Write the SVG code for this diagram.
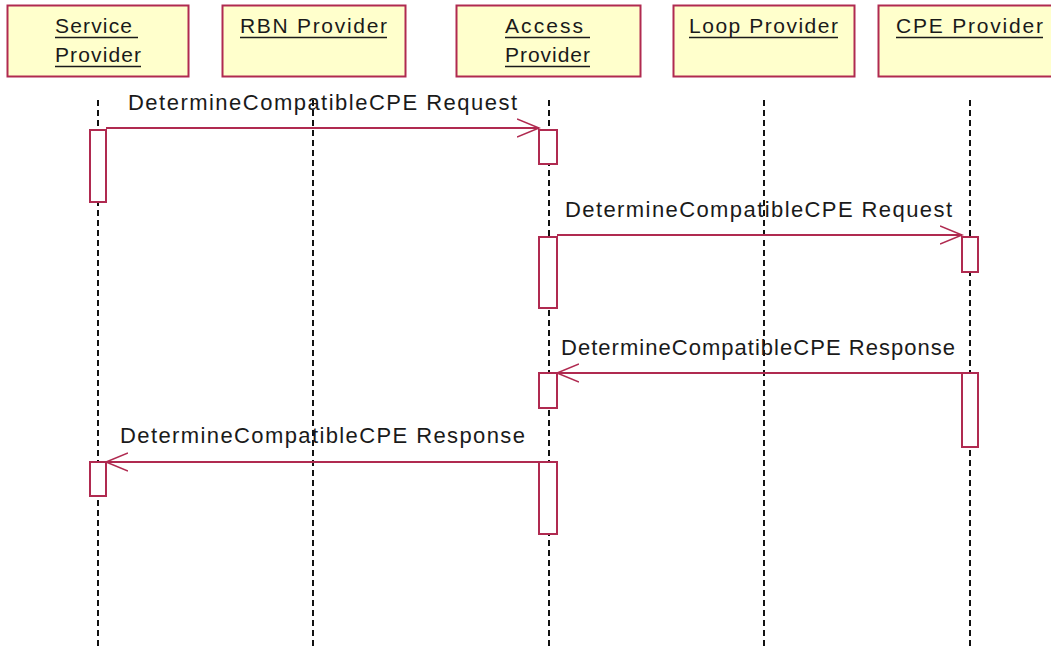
<svg xmlns="http://www.w3.org/2000/svg" width="1051" height="649" viewBox="0 0 1051 649">
<style>
.box{fill:#ffffcc;stroke:#b02a50;stroke-width:2}
.hd{font-family:"Liberation Sans",Arial,sans-serif;font-size:21px;fill:#1a1a1a}
.ul{stroke:#1a1a1a;stroke-width:1.6}
.life{stroke:#111;stroke-width:2;stroke-dasharray:6 4;fill:none}
.act{fill:#ffffff;stroke:#b02a50;stroke-width:2}
.msg{stroke:#b02a50;stroke-width:2;fill:none}
.lbl{font-family:"Liberation Sans",Arial,sans-serif;font-size:22px;fill:#1a1a1a}
</style>
<defs>
<marker id="open" markerWidth="24" markerHeight="20" refX="22" refY="10" orient="auto" markerUnits="userSpaceOnUse">
<path d="M0,1 L22,10 L0,19" fill="none" stroke="#b02a50" stroke-width="1.6"/>
</marker>
</defs>
<rect width="1051" height="649" fill="#ffffff"/>

<g id="node-service">
<rect class="box" x="7.5" y="5.5" width="181" height="71"/>
<text class="hd" x="55" y="33" textLength="77" lengthAdjust="spacing">Service</text>
<line class="ul" x1="55" y1="37.5" x2="138" y2="37.5"/>
<text class="hd" x="55" y="62" textLength="86" lengthAdjust="spacing">Provider</text>
<line class="ul" x1="55" y1="66.5" x2="141" y2="66.5"/>
</g>
<g id="node-rbn">
<rect class="box" x="222.5" y="5.5" width="183" height="71"/>
<text class="hd" x="240" y="33" textLength="147" lengthAdjust="spacing">RBN Provider</text>
<line class="ul" x1="240" y1="37.5" x2="387" y2="37.5"/>
</g>
<g id="node-access">
<rect class="box" x="456.5" y="5.5" width="184" height="71"/>
<text class="hd" x="505" y="33" textLength="78" lengthAdjust="spacing">Access</text>
<line class="ul" x1="505" y1="37.5" x2="590" y2="37.5"/>
<text class="hd" x="505" y="62" textLength="85" lengthAdjust="spacing">Provider</text>
<line class="ul" x1="505" y1="66.5" x2="590" y2="66.5"/>
</g>
<g id="node-loop">
<rect class="box" x="673.5" y="5.5" width="181" height="71"/>
<text class="hd" x="689" y="33" textLength="149" lengthAdjust="spacing">Loop Provider</text>
<line class="ul" x1="689" y1="37.5" x2="838" y2="37.5"/>
</g>
<g id="node-cpe">
<rect class="box" x="878.5" y="5.5" width="185" height="71"/>
<text class="hd" x="896" y="33" textLength="147" lengthAdjust="spacing">CPE Provider</text>
<line class="ul" x1="896" y1="37.5" x2="1043" y2="37.5"/>
</g>

<g id="lifelines">
<line class="life" x1="98" y1="100" x2="98" y2="649"/>
<line class="life" x1="313" y1="100" x2="313" y2="649"/>
<line class="life" x1="549" y1="100" x2="549" y2="649"/>
<line class="life" x1="764" y1="100" x2="764" y2="649"/>
<line class="life" x1="970" y1="100" x2="970" y2="649"/>
</g>

<g id="activations">
<rect class="act" x="90" y="130" width="16" height="72"/>
<rect class="act" x="90" y="462" width="16" height="34"/>
<rect class="act" x="539" y="130" width="18" height="34"/>
<rect class="act" x="539" y="237" width="18" height="71"/>
<rect class="act" x="539" y="373" width="18" height="35"/>
<rect class="act" x="539" y="462" width="18" height="72"/>
<rect class="act" x="962" y="237" width="16" height="35"/>
<rect class="act" x="962" y="373" width="16" height="74"/>
</g>

<g id="connectors">
<line class="msg" x1="106" y1="128" x2="539" y2="128" marker-end="url(#open)"/>
<text class="lbl" x="128" y="110" textLength="389" lengthAdjust="spacing">DetermineCompatibleCPE Request</text>
<line class="msg" x1="557" y1="235" x2="962" y2="235" marker-end="url(#open)"/>
<text class="lbl" x="565" y="217" textLength="387" lengthAdjust="spacing">DetermineCompatibleCPE Request</text>
<line class="msg" x1="962" y1="373" x2="557" y2="373" marker-end="url(#open)"/>
<text class="lbl" x="561" y="355" textLength="394" lengthAdjust="spacing">DetermineCompatibleCPE Response</text>
<line class="msg" x1="539" y1="462" x2="106" y2="462" marker-end="url(#open)"/>
<text class="lbl" x="120" y="443" textLength="405" lengthAdjust="spacing">DetermineCompatibleCPE Response</text>
</g>
</svg>
